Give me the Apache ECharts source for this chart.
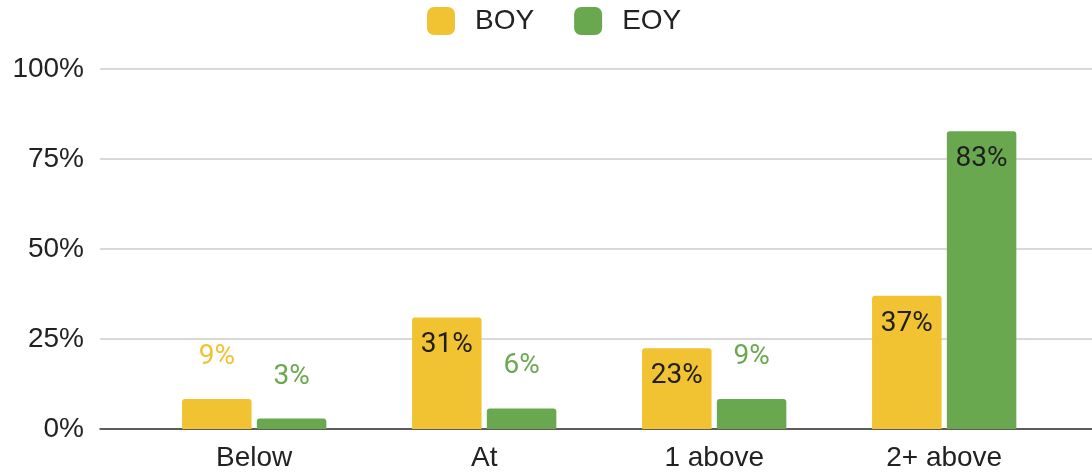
<!DOCTYPE html>
<html>
<head>
<meta charset="utf-8">
<script src="https://cdn.jsdelivr.net/npm/echarts@6/dist/echarts.min.js"></script>
<style>
html,body{margin:0;padding:0;background:#fff;}
#chart{width:1092px;height:473px;}
</style>
</head>
<body>
<div id="chart"></div>
<script>
const categories = ['Below', 'At', '1 above', '2+ above'];
const seriesNames = ['BOY', 'EOY'];
const boyValues = [8.3, 31.0, 22.4, 37.0];
const eoyValues = [2.9, 5.7, 8.3, 82.7];
const boyLabels = ['9%', '31%', '23%', '37%'];
const eoyLabels = ['3%', '6%', '9%', '83%'];
const yTicks = [0, 25, 50, 75, 100];

const colors = ['#F1C232', '#6AA84F'];
const axisFont = 'Liberation Sans, Arial, sans-serif';
const labelFont = 'Roboto, sans-serif';

function makeData(values, labels, color) {
  return values.map((v, i) => {
    const inside = v > 15;
    return {
      value: v,
      label: {
        show: true,
        formatter: labels[i],
        position: inside ? 'insideTop' : 'top',
        distance: inside ? 14 : 28,
        color: inside ? '#1f1f1f' : color,
        fontSize: 28,
        fontFamily: labelFont
      }
    };
  });
}

const chart = echarts.init(document.getElementById('chart'), null, {renderer: 'canvas'});
chart.setOption({
  animation: false,
  backgroundColor: '#ffffff',
  legend: {
    top: 2,
    left: 422,
    itemWidth: 28,
    itemHeight: 28,
    itemGap: 40,
    icon: 'roundRect',
    data: seriesNames,
    textStyle: {
      fontSize: 28,
      fontFamily: axisFont,
      color: '#222222',
      padding: [0, 0, 0, 15]
    }
  },
  grid: [
    {left: 100, right: 0, top: 69, height: 360},
    {left: 139.2, right: 32.8, top: 69, height: 360}
  ],
  xAxis: [
    {
      gridIndex: 0, type: 'value', min: 0, max: 1,
      axisLine: {show: true, lineStyle: {color: '#333333', width: 1.5}},
      axisTick: {show: false}, axisLabel: {show: false}, splitLine: {show: false}
    },
    {
      gridIndex: 1, type: 'category', data: categories,
      axisLine: {show: false}, axisTick: {show: false},
      axisLabel: {fontSize: 28, fontFamily: axisFont, color: '#222222', margin: 15}
    }
  ],
  yAxis: [
    {
      gridIndex: 0, type: 'value', min: 0, max: 100, interval: 25,
      axisLine: {show: false}, axisTick: {show: false},
      axisLabel: {
        fontSize: 28, fontFamily: axisFont, color: '#222222', margin: 16,
        formatter: v => yTicks.includes(v) ? v + '%' : ''
      },
      splitLine: {lineStyle: {color: '#cccccc', width: 1.5}}
    },
    {
      gridIndex: 1, type: 'value', min: 0, max: 100, interval: 25,
      show: false, splitLine: {show: false}
    }
  ],
  series: [
    {
      name: seriesNames[0], type: 'bar', xAxisIndex: 1, yAxisIndex: 1,
      barWidth: 69.5, barGap: '7.6%',
      itemStyle: {color: colors[0], borderRadius: [3, 3, 0, 0]},
      data: makeData(boyValues, boyLabels, colors[0])
    },
    {
      name: seriesNames[1], type: 'bar', xAxisIndex: 1, yAxisIndex: 1,
      barWidth: 69.5, barGap: '7.6%',
      itemStyle: {color: colors[1], borderRadius: [3, 3, 0, 0]},
      data: makeData(eoyValues, eoyLabels, colors[1])
    }
  ]
});
</script>
</body>
</html>
